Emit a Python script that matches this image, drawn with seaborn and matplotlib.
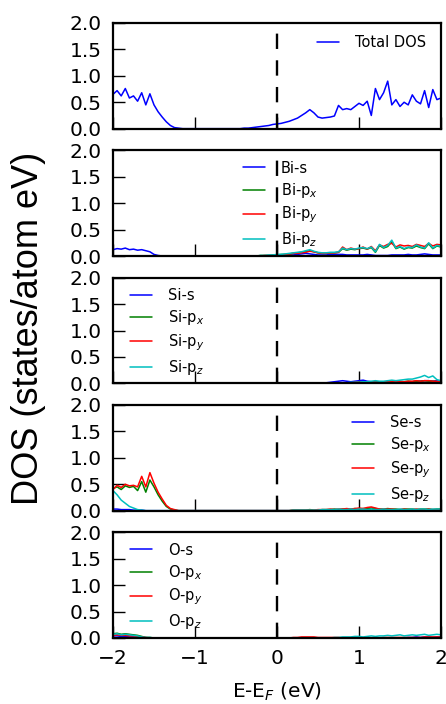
import numpy as np
import pandas as pd
import seaborn as sns
import matplotlib.pyplot as plt

# energy grid (eV), step 0.05
energy = np.round(np.arange(-2.0, 2.0001, 0.05), 2)

# ---- DOS values (states/atom eV) ----
total_dos = [0.65, 0.72, 0.62, 0.76, 0.58, 0.62, 0.52, 0.68, 0.45, 0.66,
             0.45, 0.32, 0.22, 0.13, 0.06, 0.02, 0.01] + [0.0] * 15 + \
            [0.01, 0.01, 0.02, 0.03, 0.04, 0.05, 0.06, 0.08, 0.09, 0.10,
             0.12, 0.14, 0.17, 0.20, 0.25, 0.30, 0.36, 0.30, 0.22, 0.20,
             0.21, 0.22, 0.24, 0.44, 0.36, 0.38, 0.36, 0.42, 0.48, 0.44,
             0.52, 0.25, 0.76, 0.55, 0.68, 0.90, 0.45, 0.55, 0.42, 0.50,
             0.45, 0.64, 0.52, 0.47, 0.72, 0.40, 0.74, 0.55, 0.58]

bi_s = [0.12, 0.14, 0.13, 0.15, 0.12, 0.13, 0.11, 0.12, 0.10, 0.08, 0.03, 0.01] + [0.0] * 28 + \
       [0.01, 0.01, 0.01, 0.02, 0.02, 0.03, 0.04, 0.05, 0.04, 0.03, 0.02, 0.02, 0.02, 0.03,
        0.03, 0.03, 0.03, 0.02, 0.02, 0.02, 0.02, 0.02, 0.03, 0.02, 0.01, 0.01, 0.01, 0.01,
        0.02, 0.02, 0.02, 0.02, 0.03, 0.02, 0.02, 0.03, 0.04, 0.03, 0.02, 0.02, 0.02]
bi_px = [0.0] * 36 + \
        [0.01, 0.01, 0.01, 0.02, 0.02, 0.03, 0.03, 0.04, 0.05, 0.06, 0.07, 0.08, 0.10, 0.08, 0.06,
         0.05, 0.05, 0.06, 0.06, 0.07, 0.14, 0.11, 0.13, 0.12, 0.14, 0.15, 0.13, 0.16, 0.07, 0.20,
         0.15, 0.18, 0.27, 0.14, 0.17, 0.13, 0.16, 0.15, 0.19, 0.16, 0.14, 0.23, 0.14, 0.19, 0.17]
bi_py = [0.0] * 36 + \
        [0.00, 0.01, 0.01, 0.01, 0.02, 0.02, 0.03, 0.04, 0.05, 0.05, 0.06, 0.07, 0.09, 0.08, 0.06,
         0.05, 0.05, 0.06, 0.06, 0.07, 0.17, 0.12, 0.15, 0.13, 0.14, 0.17, 0.13, 0.18, 0.10, 0.21,
         0.18, 0.22, 0.24, 0.17, 0.21, 0.19, 0.20, 0.18, 0.22, 0.20, 0.18, 0.24, 0.19, 0.22, 0.21]
bi_pz = [0.0] * 36 + \
        [0.01, 0.01, 0.02, 0.02, 0.03, 0.03, 0.04, 0.05, 0.06, 0.07, 0.08, 0.10, 0.12, 0.09, 0.07,
         0.06, 0.06, 0.07, 0.07, 0.08, 0.15, 0.12, 0.14, 0.13, 0.15, 0.16, 0.14, 0.17, 0.08, 0.22,
         0.16, 0.20, 0.30, 0.15, 0.18, 0.14, 0.17, 0.16, 0.21, 0.17, 0.15, 0.25, 0.15, 0.20, 0.18]

si_s = [0.0] * 46 + \
       [0.00, 0.01, 0.01, 0.00, 0.00, 0.01, 0.01, 0.02, 0.03, 0.04, 0.05, 0.04, 0.03, 0.04, 0.05,
        0.06, 0.04, 0.03, 0.02, 0.02, 0.02, 0.02, 0.03, 0.03, 0.02, 0.02, 0.03, 0.03, 0.04, 0.04,
        0.05, 0.05, 0.04, 0.05, 0.04]
si_px = [0.0] * 56 + \
        [0.01, 0.01, 0.01, 0.01, 0.02, 0.02, 0.02, 0.02, 0.02, 0.03, 0.02, 0.02, 0.03, 0.03, 0.03,
         0.03, 0.04, 0.03, 0.04, 0.04, 0.05, 0.04, 0.04, 0.03, 0.03]
si_py = [0.0] * 56 + \
        [0.01, 0.01, 0.01, 0.02, 0.02, 0.02, 0.02, 0.03, 0.02, 0.02, 0.03, 0.03, 0.03, 0.03, 0.04,
         0.03, 0.04, 0.04, 0.05, 0.04, 0.05, 0.05, 0.04, 0.04, 0.03]
si_pz = [0.0] * 56 + \
        [0.01, 0.01, 0.02, 0.02, 0.02, 0.03, 0.03, 0.04, 0.05, 0.04, 0.04, 0.05, 0.06, 0.05, 0.06,
         0.07, 0.08, 0.08, 0.10, 0.12, 0.15, 0.11, 0.14, 0.07, 0.05]

se_s = [0.03, 0.03, 0.02, 0.02, 0.02, 0.01, 0.01, 0.01] + [0.0] * 73
se_px = [0.42, 0.45, 0.40, 0.47, 0.44, 0.46, 0.38, 0.55, 0.35, 0.58, 0.45, 0.30, 0.18, 0.08,
         0.03, 0.01] + [0.0] * 28 + \
        [0.01, 0.01, 0.01, 0.01, 0.02, 0.01, 0.01, 0.02, 0.02, 0.02, 0.03, 0.02, 0.03, 0.03,
         0.03, 0.04, 0.03, 0.04, 0.04, 0.05, 0.04, 0.03, 0.03, 0.04, 0.03, 0.03, 0.02, 0.03,
         0.03, 0.03, 0.02, 0.03, 0.03, 0.03, 0.02, 0.03, 0.03]
se_py = [0.40, 0.48, 0.44, 0.50, 0.47, 0.48, 0.45, 0.65, 0.45, 0.72, 0.52, 0.35, 0.22, 0.10,
         0.04, 0.02] + [0.0] * 28 + \
        [0.01, 0.01, 0.01, 0.01, 0.01, 0.01, 0.02, 0.02, 0.02, 0.03, 0.02, 0.03, 0.03, 0.04,
         0.03, 0.04, 0.05, 0.04, 0.06, 0.07, 0.05, 0.03, 0.03, 0.03, 0.03, 0.02, 0.02, 0.03,
         0.02, 0.02, 0.03, 0.02, 0.02, 0.03, 0.02, 0.02, 0.02]
se_pz = [0.38, 0.30, 0.20, 0.14, 0.08, 0.05, 0.02, 0.01] + [0.0] * 36 + \
        [0.01, 0.01, 0.01, 0.01, 0.01, 0.01, 0.01, 0.02, 0.02, 0.02, 0.02, 0.03, 0.02, 0.02,
         0.03, 0.02, 0.03, 0.03, 0.02, 0.03, 0.02, 0.02, 0.03, 0.02, 0.02, 0.02, 0.03, 0.02,
         0.02, 0.03, 0.02, 0.03, 0.03, 0.02, 0.03, 0.03, 0.03]

o_s = [0.04, 0.04, 0.03, 0.03, 0.02, 0.02, 0.01, 0.01] + [0.0] * 64 + \
      [0.01, 0.01, 0.02, 0.01, 0.02, 0.02, 0.01, 0.02, 0.02]
o_px = [0.08, 0.09, 0.07, 0.08, 0.07, 0.06, 0.05, 0.03, 0.01, 0.01] + [0.0] * 71
o_py = [0.05, 0.06, 0.05, 0.05, 0.04, 0.04, 0.03, 0.02, 0.01] + [0.0] * 35 + \
       [0.01, 0.01, 0.02, 0.02, 0.02, 0.02, 0.01, 0.01, 0.01, 0.01, 0.01, 0.01] + [0.0] * 10 + \
       [0.01, 0.01, 0.01, 0.01, 0.01, 0.01, 0.01, 0.01, 0.01, 0.01, 0.02, 0.02, 0.02, 0.02, 0.02]
o_pz = [0.07, 0.08, 0.06, 0.07, 0.06, 0.05, 0.04, 0.02, 0.01, 0.01] + [0.0] * 44 + \
       [0.01, 0.01, 0.02, 0.02, 0.02, 0.03, 0.03, 0.02, 0.03, 0.04, 0.03, 0.04, 0.04, 0.05,
        0.04, 0.05, 0.06, 0.04, 0.05, 0.06, 0.05, 0.06, 0.07, 0.05, 0.06, 0.07, 0.06]

panels = [
    ("Total DOS", {"Total DOS": total_dos}, "upper right", (0.985, 0.985)),
    ("Bi", {"Bi-s": bi_s, "Bi-p$_x$": bi_px, "Bi-p$_y$": bi_py, "Bi-p$_z$": bi_pz}, "upper center", (0.51, 1.0)),
    ("Si", {"Si-s": si_s, "Si-p$_x$": si_px, "Si-p$_y$": si_py, "Si-p$_z$": si_pz}, "upper left", (0.02, 1.0)),
    ("Se", {"Se-s": se_s, "Se-p$_x$": se_px, "Se-p$_y$": se_py, "Se-p$_z$": se_pz}, "upper right", (1.0, 1.0)),
    ("O", {"O-s": o_s, "O-p$_x$": o_px, "O-p$_y$": o_py, "O-p$_z$": o_pz}, "upper left", (0.02, 1.0)),
]
colors = ["#0000ff", "#008000", "#ff0000", "#00bfbf"]

sns.set_style("ticks")
plt.rcParams["font.family"] = ["DejaVu Sans"]
for key in ["text.color", "axes.labelcolor", "xtick.color", "ytick.color"]:
    plt.rcParams[key] = "black"

fig, axes = plt.subplots(5, 1, figsize=(4.46, 7.04), dpi=100, sharex=True)
fig.subplots_adjust(left=113 / 446, right=441 / 446, top=1 - 23 / 704,
                    bottom=1 - 638 / 704, hspace=0.205)

for ax, (name, series, loc, anchor) in zip(axes, panels):
    labels = list(series.keys())
    df = pd.DataFrame({
        "E": np.tile(energy, len(labels)),
        "dos": np.concatenate([series[k] for k in labels]),
        "orbital": np.repeat(labels, len(energy)),
    })
    sns.lineplot(data=df, x="E", y="dos", hue="orbital", hue_order=labels,
                 palette=colors[:len(labels)], linewidth=1.1, ax=ax)
    ax.axvline(0, color="k", linewidth=1.7, linestyle=(0, (6.5, 4.8)))
    ax.set_xlim(-2, 2)
    ax.set_ylim(0, 2)
    ax.set_yticks([0, 0.5, 1.0, 1.5, 2.0])
    ax.set_yticklabels(["0.0", "0.5", "1.0", "1.5", "2.0"])
    ax.set_xticks([-2, -1, 0, 1, 2])
    ax.set_xlabel("")
    ax.set_ylabel("")
    ax.tick_params(direction="in", length=8.5, width=1, labelsize=14.5, pad=8,
                   top=False, right=False, colors="black")
    for sp in ax.spines.values():
        sp.set_visible(True)
        sp.set_linewidth(1.6)
        sp.set_color("k")
    ax.legend(loc=loc, bbox_to_anchor=anchor, frameon=False, fontsize=10.5,
              handlelength=1.5, handletextpad=1.1, labelspacing=0.35,
              borderaxespad=0.3)

axes[-1].set_xticklabels(["\u22122", "\u22121", "0", "1", "2"])

fig.text(29 / 446, 1 - 328 / 704, "DOS (states/atom eV)", rotation=90,
         ha="center", va="center", fontsize=26, family="Liberation Sans")
fig.text(277 / 446, 1 - 692 / 704, "E-E$_F$ (eV)", ha="center", va="center",
         fontsize=14.5)

fig.savefig("out.png", dpi=100)
